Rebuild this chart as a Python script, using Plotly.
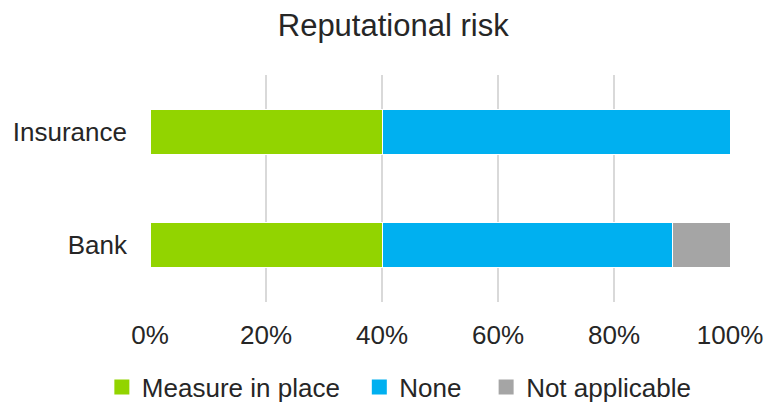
import plotly.graph_objects as go

categories = ["Bank", "Insurance"]
measure = [40, 40]
none_vals = [50, 60]
not_applicable = [10, 0]
series_names = ["Measure in place", "None", "Not applicable"]
colors = ["#92D400", "#00B0F0", "#A5A5A5"]
x_ticks = [0, 20, 40, 60, 80, 100]
x_tick_labels = ["0%", "20%", "40%", "60%", "80%", "100%"]

pads = ["\u00a0\u00a0", "\u00a0\u00a0\u2009", ""]
fig = go.Figure()
for name, vals, col in zip(series_names, [measure, none_vals, not_applicable], colors):
    fig.add_trace(go.Bar(
        y=categories, x=vals, name=name, orientation="h",
        marker=dict(color=col, line=dict(color="white", width=1)),
        width=0.4, showlegend=False, legendgroup=name,
    ))
for name, col, pad in zip(series_names, colors, pads):
    fig.add_trace(go.Scatter(
        x=[None], y=[None], mode="markers", name=name + pad,
        marker=dict(symbol="square", size=15, color=col), legendgroup=name,
    ))

fig.update_layout(
    barmode="stack",
    width=768, height=402,
    paper_bgcolor="white", plot_bgcolor="white",
    margin=dict(l=150, r=38, t=75, b=100, autoexpand=False),
    font=dict(family="Liberation Sans, Arial, sans-serif", size=26, color="#262626"),
    title=dict(text="Reputational risk", x=0.512, xanchor="center", y=0.938, yanchor="middle",
               font=dict(size=31, color="#262626")),
    xaxis=dict(range=[0, 100], tickvals=x_ticks, ticktext=x_tick_labels, automargin=False,
               showgrid=True, gridcolor="#D9D9D9", gridwidth=1.5, zeroline=False,
               showline=False, ticks="", ticklabelstandoff=15, fixedrange=True),
    yaxis=dict(type="category", categoryorder="array", categoryarray=categories,
               range=[-0.5, 1.5], showgrid=False, zeroline=False, showline=False,
               automargin=False, ticks="", ticklabelstandoff=22),
    legend=dict(orientation="h", x=-0.083, xanchor="left", y=-0.375, yanchor="middle",
                font=dict(size=26, color="#262626"), traceorder="normal",
                itemwidth=30, itemclick=False, itemdoubleclick=False),
    showlegend=True,
)
fig.write_html("out.html")
